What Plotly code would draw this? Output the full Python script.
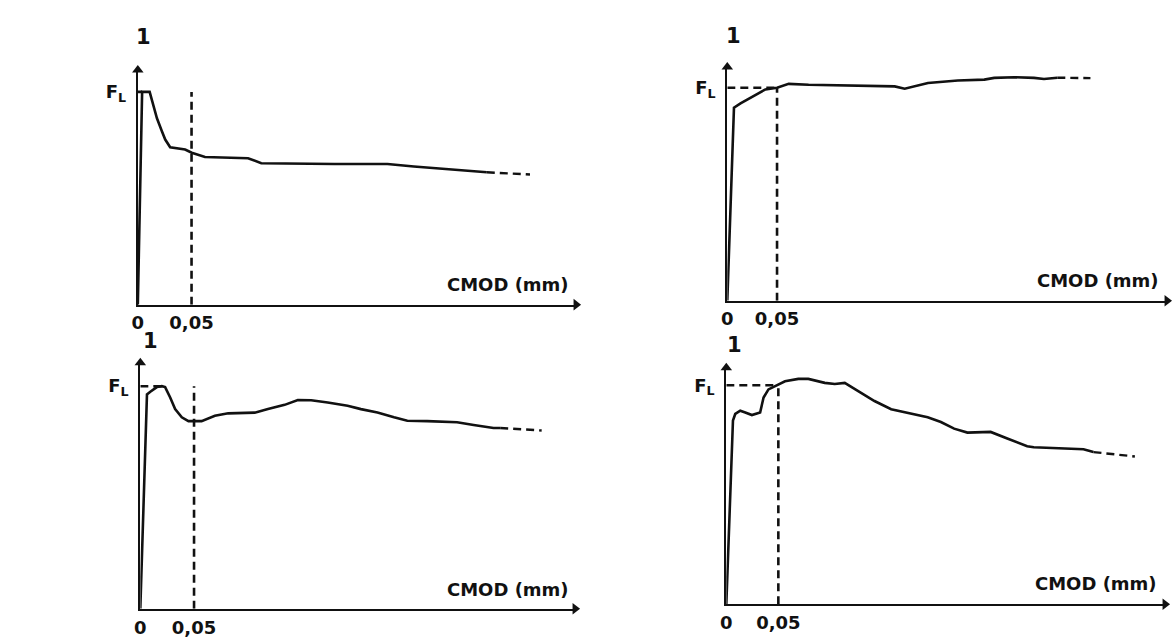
import plotly.graph_objects as go

W, H = 1176, 638

# ---------------- data (CMOD in mm, load relative to F_L) ----------------
p1_x = [0, 0.004, 0.011, 0.0146, 0.0178, 0.0224, 0.0255, 0.0301, 0.044, 0.0502, 0.0625,
        0.1026, 0.1149, 0.1829, 0.2323, 0.2569, 0.3001, 0.3248]
p1_y = [0, 1.0, 1.0, 0.938, 0.876, 0.815, 0.776, 0.740, 0.729, 0.714, 0.694,
        0.688, 0.665, 0.661, 0.661, 0.649, 0.630, 0.622]
p1_tail_x = [0.3248, 0.365]
p1_tail_y = [0.622, 0.612]

p2_x = [0, 0.0067, 0.0133, 0.0267, 0.0383, 0.05, 0.0617, 0.0817, 0.1683, 0.1783, 0.2017,
        0.2317, 0.2583, 0.2683, 0.2883, 0.3083, 0.3183, 0.3317]
p2_y = [0, 0.906, 0.926, 0.962, 0.992, 1.0, 1.018, 1.014, 1.006, 0.995, 1.022,
        1.034, 1.038, 1.046, 1.049, 1.046, 1.041, 1.047]
p2_tail_x = [0.3317, 0.365]
p2_tail_y = [1.047, 1.045]

p3_x = [0, 0.0062, 0.0093, 0.0154, 0.0201, 0.0231, 0.0278, 0.0324, 0.0386, 0.0448, 0.057,
        0.0694, 0.0818, 0.1065, 0.1188, 0.1343, 0.1466, 0.159, 0.1744, 0.1929, 0.2053,
        0.2207, 0.2361, 0.2485, 0.267, 0.2948, 0.3102, 0.3287, 0.3349]
p3_y = [0, 0.963, 0.975, 0.996, 1.0, 0.996, 0.949, 0.897, 0.86, 0.843, 0.843,
        0.867, 0.878, 0.881, 0.897, 0.916, 0.938, 0.937, 0.927, 0.912, 0.897,
        0.882, 0.86, 0.845, 0.843, 0.838, 0.826, 0.812, 0.812]
p3_tail_x = [0.3349, 0.3735]
p3_tail_y = [0.812, 0.801]

p4_x = [0, 0.0064, 0.0086, 0.0134, 0.0182, 0.0246, 0.0325, 0.0358, 0.0405, 0.0485, 0.0564,
        0.0692, 0.0788, 0.0946, 0.1042, 0.1138, 0.1266, 0.1424, 0.1584, 0.1744, 0.1935,
        0.2062, 0.2189, 0.2317, 0.254, 0.27, 0.2891, 0.2954, 0.3209, 0.3432, 0.3528]
p4_y = [0, 0.839, 0.869, 0.884, 0.876, 0.864, 0.876, 0.944, 0.981, 1.0, 1.018,
        1.029, 1.029, 1.011, 1.006, 1.011, 0.973, 0.928, 0.891, 0.875, 0.854,
        0.832, 0.802, 0.784, 0.787, 0.757, 0.722, 0.717, 0.712, 0.708, 0.695]
p4_tail_x = [0.3528, 0.3926]
p4_tail_y = [0.695, 0.675]

# F_L reference: horizontal dashed from axis to this CMOD, vertical dashed at 0.05
fl_extent = [0.004, 0.05, 0.0201, 0.05]
cmod_ref = 0.05
x_tick_vals = [0, 0.05]
x_tick_text = ["0", "0,05"]
y_tick_vals = [1]
y_tick_text = ["F<sub>L</sub>"]
panel_label = "1"
axis_title = "CMOD (mm)"

# ---------------- layout geometry (pixels) ----------------
panels = [
    dict(ox=132.5, oy=309, tx=573, ty=71, xmax=0.4079, ymax=1.103,
         lab=(138, 38), cmod=(568, 289)),
    dict(ox=725, oy=305, tx=1167, ty=68, xmax=0.442, ymax=1.097,
         lab=(731, 37), cmod=(1161, 285)),
    dict(ox=135, oy=617.5, tx=572, ty=368, xmax=0.4046, ymax=1.105,
         lab=(145, 346), cmod=(568, 598)),
    dict(ox=724, oy=613, tx=1165, ty=373, xmax=0.4216, ymax=1.08,
         lab=(732, 350), cmod=(1159, 592)),
]
curves = [(p1_x, p1_y, p1_tail_x, p1_tail_y), (p2_x, p2_y, p2_tail_x, p2_tail_y),
          (p3_x, p3_y, p3_tail_x, p3_tail_y), (p4_x, p4_y, p4_tail_x, p4_tail_y)]

INK = "#111111"
FONT = "DejaVu Sans"
DASH = "8px,5px"

fig = go.Figure()
annotations = []
layout = {}

for i, (pan, (cx, cy, tx, ty)) in enumerate(zip(panels, curves)):
    n = "" if i == 0 else str(i + 1)
    xa, ya = "x" + n, "y" + n
    fig.add_trace(go.Scatter(x=cx, y=cy, mode="lines", xaxis=xa, yaxis=ya,
                             line=dict(color=INK, width=2.6), cliponaxis=False,
                             showlegend=False, hoverinfo="skip"))
    fig.add_trace(go.Scatter(x=tx, y=ty, mode="lines", xaxis=xa, yaxis=ya,
                             line=dict(color=INK, width=2.4, dash=DASH), cliponaxis=False,
                             showlegend=False, hoverinfo="skip"))
    fig.add_trace(go.Scatter(x=[0, fl_extent[i]], y=[1, 1], mode="lines", xaxis=xa, yaxis=ya,
                             line=dict(color=INK, width=2.6, dash=DASH), cliponaxis=False,
                             showlegend=False, hoverinfo="skip"))
    fig.add_trace(go.Scatter(x=[cmod_ref, cmod_ref], y=[0, 1], mode="lines", xaxis=xa, yaxis=ya,
                             line=dict(color=INK, width=2.6, dash=DASH), cliponaxis=False,
                             showlegend=False, hoverinfo="skip"))
    fig.add_trace(go.Scatter(x=[pan["xmax"]], y=[0], mode="markers", xaxis=xa, yaxis=ya,
                             marker=dict(symbol="triangle-right", size=10, color=INK,
                                         line=dict(width=0)),
                             cliponaxis=False, showlegend=False, hoverinfo="skip"))
    fig.add_trace(go.Scatter(x=[0], y=[pan["ymax"]], mode="markers", xaxis=xa, yaxis=ya,
                             marker=dict(symbol="triangle-up", size=10, color=INK,
                                         line=dict(width=0)),
                             cliponaxis=False, showlegend=False, hoverinfo="skip"))

    layout["xaxis" + n] = dict(
        domain=[pan["ox"] / W, pan["tx"] / W], range=[0, pan["xmax"]], anchor=ya,
        showline=True, linecolor=INK, linewidth=2.4, showgrid=False, zeroline=False,
        ticks="", tickvals=x_tick_vals, ticktext=x_tick_text, ticklabelstandoff=1,
        tickfont=dict(family=FONT, size=18, color=INK, weight="bold"), fixedrange=True)
    layout["yaxis" + n] = dict(
        domain=[1 - pan["oy"] / H, 1 - pan["ty"] / H], range=[0, pan["ymax"]], anchor=xa,
        showline=True, linecolor=INK, linewidth=2.4, showgrid=False, zeroline=False,
        ticks="", tickvals=y_tick_vals, ticktext=y_tick_text, ticklabelstandoff=6,
        tickfont=dict(family=FONT, size=18, color=INK, weight="bold"), fixedrange=True)

    annotations.append(dict(x=pan["lab"][0] / W, y=1 - pan["lab"][1] / H, xref="paper",
                            yref="paper", text=panel_label, showarrow=False,
                            xanchor="center", yanchor="middle",
                            font=dict(family=FONT, size=21, color=INK, weight="bold")))
    annotations.append(dict(x=pan["cmod"][0] / W, y=1 - pan["cmod"][1] / H, xref="paper",
                            yref="paper", text=axis_title, showarrow=False,
                            xanchor="right", yanchor="middle",
                            font=dict(family=FONT, size=18, color=INK, weight="bold")))

fig.update_layout(
    width=W, height=H, margin=dict(l=0, r=0, t=0, b=0),
    paper_bgcolor="white", plot_bgcolor="rgba(0,0,0,0)",
    annotations=annotations, showlegend=False, **layout)

fig.write_html("out.html", include_plotlyjs=True, config={"displayModeBar": False})
